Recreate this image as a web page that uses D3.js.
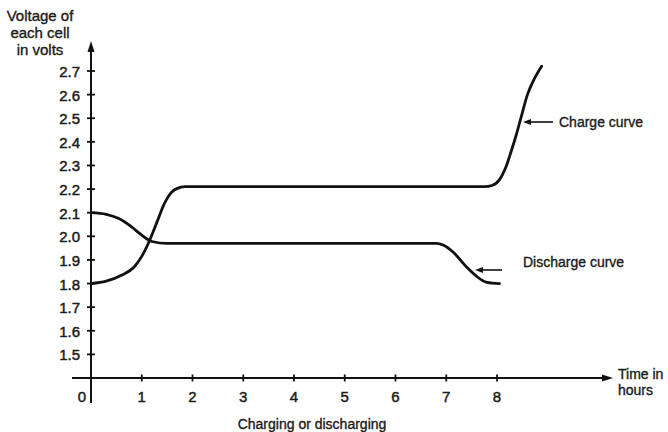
<!DOCTYPE html>
<html>
<head>
<meta charset="utf-8">
<script src="https://cdn.jsdelivr.net/npm/d3@7"></script>
<style>
  body { margin: 0; background: #fff; }
  svg { display: block; font-family: "Liberation Sans", Arial, sans-serif; }
  .lbl { fill: #1a1a1a; font-size: 14px; stroke: #1a1a1a; stroke-width: 0.35px; }
  .tick-lbl { fill: #1a1a1a; font-size: 15px; stroke: #1a1a1a; stroke-width: 0.45px; }
</style>
</head>
<body>
<div id="chart"></div>
<script>
// Values (hours, volts)
const chargeTime    = [0, 0.3, 0.6, 0.85, 1.0, 1.15, 1.3, 1.45, 1.58, 1.7, 1.85, 7.75, 7.9, 8.05, 8.17, 8.28, 8.38, 8.47, 8.6, 8.72, 8.88];
const chargeVolts   = [1.8, 1.81, 1.835, 1.87, 1.915, 1.98, 2.06, 2.14, 2.185, 2.203, 2.21, 2.21, 2.215, 2.24, 2.29, 2.36, 2.43, 2.5, 2.6, 2.66, 2.72];
const dischargeTime  = [0, 0.3, 0.55, 0.8, 1.0, 1.2, 1.5, 6.8, 6.95, 7.15, 7.4, 7.6, 7.8, 8.05];
const dischargeVolts = [2.1, 2.093, 2.075, 2.04, 2.005, 1.978, 1.97, 1.97, 1.962, 1.93, 1.87, 1.83, 1.805, 1.8];
const yTicks = [1.5, 1.6, 1.7, 1.8, 1.9, 2.0, 2.1, 2.2, 2.3, 2.4, 2.5, 2.6, 2.7];
const xTicks = [1, 2, 3, 4, 5, 6, 7, 8];

const width = 668, height = 432;
const svg = d3.select("#chart").append("svg").attr("width", width).attr("height", height);

const x = d3.scaleLinear().domain([0, 8]).range([91, 497]);
const y = d3.scaleLinear().domain([1.4, 2.7]).range([378, 71]);
const ink = "#111";

// axes
svg.append("line").attr("x1", x(0)).attr("x2", x(0)).attr("y1", 403).attr("y2", 48)
  .attr("stroke", ink).attr("stroke-width", 2);
svg.append("path").attr("d", `M${x(0)},41 L${x(0) - 3.5},52 L${x(0) + 3.5},52 Z`).attr("fill", ink);

svg.append("line").attr("x1", 72).attr("x2", 605).attr("y1", y(1.4)).attr("y2", y(1.4))
  .attr("stroke", ink).attr("stroke-width", 2);
svg.append("path").attr("d", `M613,${y(1.4)} L602,${y(1.4) - 3.5} L602,${y(1.4) + 3.5} Z`).attr("fill", ink);

// y ticks
svg.selectAll("line.ytick").data(yTicks).join("line").attr("class", "ytick")
  .attr("x1", x(0) - 4).attr("x2", x(0) + 4)
  .attr("y1", (d) => y(d)).attr("y2", (d) => y(d))
  .attr("stroke", ink).attr("stroke-width", 1.8);
svg.selectAll("text.ylab").data(yTicks).join("text").attr("class", "tick-lbl ylab")
  .attr("x", 80).attr("y", (d) => y(d)).attr("dy", "0.4em").attr("text-anchor", "end")
  .text((d) => d.toFixed(1));

// x ticks
svg.selectAll("line.xtick").data(xTicks).join("line").attr("class", "xtick")
  .attr("x1", (d) => x(d)).attr("x2", (d) => x(d))
  .attr("y1", y(1.4) - 3.5).attr("y2", y(1.4) + 3.5)
  .attr("stroke", ink).attr("stroke-width", 1.8);
svg.selectAll("text.xlab").data(xTicks).join("text").attr("class", "tick-lbl xlab")
  .attr("x", (d) => x(d)).attr("y", 402).attr("text-anchor", "middle")
  .text((d) => d);
svg.append("text").attr("class", "tick-lbl").attr("x", 82).attr("y", 402)
  .attr("text-anchor", "middle").text("0");

// curves
const line = d3.line().x((d) => x(d[0])).y((d) => y(d[1])).curve(d3.curveMonotoneX);
svg.append("path").datum(d3.zip(chargeTime, chargeVolts)).attr("d", line)
  .attr("fill", "none").attr("stroke", ink).attr("stroke-width", 2.8).attr("stroke-linecap", "round");
svg.append("path").datum(d3.zip(dischargeTime, dischargeVolts)).attr("d", line)
  .attr("fill", "none").attr("stroke", ink).attr("stroke-width", 2.8).attr("stroke-linecap", "round");

// annotation arrows
function arrow(x1, x2, yy) {
  svg.append("line").attr("x1", x1).attr("x2", x2 + 6).attr("y1", yy).attr("y2", yy)
    .attr("stroke", ink).attr("stroke-width", 1.6);
  svg.append("path").attr("d", `M${x2},${yy} L${x2 + 8},${yy - 3} L${x2 + 8},${yy + 3} Z`).attr("fill", ink);
}
arrow(553, 523, 122);
arrow(502, 475, 270);

svg.append("text").attr("class", "lbl").attr("x", 559).attr("y", 127).text("Charge curve");
svg.append("text").attr("class", "lbl").attr("x", 523).attr("y", 267).text("Discharge curve");

// axis titles
const yTitle = ["Voltage of", "each cell", "in volts"];
svg.selectAll("text.ytitle").data(yTitle).join("text").attr("class", "lbl ytitle")
  .style("font-size", "15px")
  .attr("x", 40).attr("y", (d, i) => 21 + i * 17).attr("text-anchor", "middle").text((d) => d);

svg.append("text").attr("class", "lbl").attr("x", 618).attr("y", 379).text("Time in");
svg.append("text").attr("class", "lbl").attr("x", 618).attr("y", 395).text("hours");
svg.append("text").attr("class", "lbl").attr("x", 312).attr("y", 429)
  .attr("text-anchor", "middle").text("Charging or discharging");
</script>
</body>
</html>
